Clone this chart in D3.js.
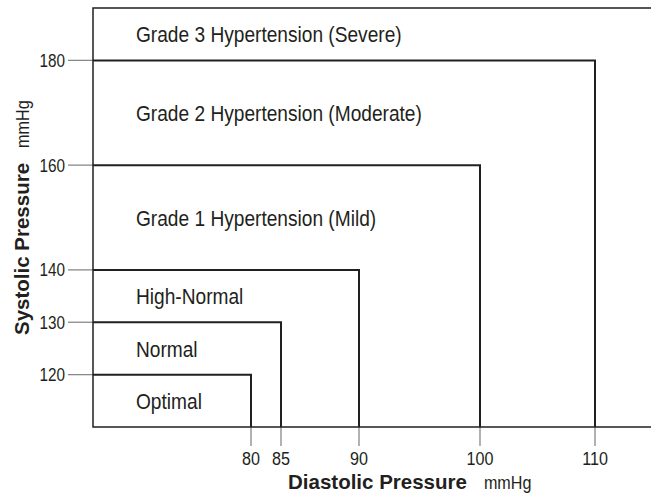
<!DOCTYPE html>
<html lang="en">
<head>
  <meta charset="UTF-8">
  <title>Blood Pressure Classification</title>
  <script src="https://d3js.org/d3.v7.min.js"></script>
  <style>
    body { margin: 0; background: #fff; }
    text { fill: #231f20; }
  </style>
</head>
<body>

<div id="chart"></div>

<script>
  // Classification bands, lowest first
  const categories = [
    "Optimal",
    "Normal",
    "High-Normal",
    "Grade 1 Hypertension (Mild)",
    "Grade 2 Hypertension (Moderate)",
    "Grade 3 Hypertension (Severe)"
  ];
  // upper limits of each band (the last band is open)
  const systolic = [120, 130, 140, 160, 180];
  const diastolic = [80, 85, 90, 100, 110];
  const yTicks = [120, 130, 140, 160, 180];
  const xTicks = [80, 85, 90, 100, 110];

  const width = 651;
  const height = 494;
  const plotLeft = 93, plotTop = 8, plotBottom = 427;

  const ink = "#231f20";
  const sans = "'Liberation Sans', Arial, Helvetica, sans-serif";
  const squeeze = 0.85; // no narrow face installed, so squash the regular one

  // systolic axis is linear
  const y = d3.scaleLinear().domain([110, 190]).range([plotBottom, plotTop]);
  // diastolic axis in the original is schematic, not to scale
  const x = d3.scaleLinear()
    .domain(diastolic)
    .range([251, 281, 359, 480, 595]);

  const svg = d3.select("#chart")
    .append("svg")
    .attr("width", width)
    .attr("height", height);

  // condensed text helper
  function narrowText(sel, size) {
    return sel.append("text")
      .attr("transform", `scale(${squeeze},1)`)
      .style("font-family", sans)
      .style("font-size", size + "px");
  }

  // y tick marks + labels
  const yt = svg.append("g").selectAll("g")
    .data(yTicks)
    .enter().append("g")
    .attr("transform", d => `translate(0,${y(d)})`);
  yt.append("line")
    .attr("x1", 68).attr("x2", plotLeft)
    .attr("stroke", "#888").attr("stroke-width", 1.3);
  yt.append("g")
    .attr("transform", "translate(65,0)")
    .call(g => narrowText(g, 18)
      .attr("dy", "0.36em")
      .attr("text-anchor", "end")
      .text(d => d));

  // x tick marks + labels
  const xt = svg.append("g").selectAll("g")
    .data(xTicks)
    .enter().append("g")
    .attr("transform", d => `translate(${x(d)},0)`);
  xt.append("line")
    .attr("y1", plotBottom).attr("y2", 446)
    .attr("stroke", "#888").attr("stroke-width", 1.3);
  xt.append("g")
    .attr("transform", "translate(0,465)")
    .call(g => narrowText(g, 19)
      .attr("text-anchor", "middle")
      .text(d => d));

  // frame: left, top and bottom edges
  svg.append("path")
    .attr("d", `M${width},${plotTop}H${plotLeft}V${plotBottom}H${width}`)
    .attr("fill", "none")
    .attr("stroke", ink)
    .attr("stroke-width", 1.5);

  // band boundaries
  svg.append("g").selectAll("path")
    .data(systolic.map((s, i) => ({ s, d: diastolic[i] })))
    .enter().append("path")
    .attr("d", b => `M${plotLeft},${y(b.s)}H${x(b.d)}V${plotBottom}`)
    .attr("fill", "none")
    .attr("stroke", ink)
    .attr("stroke-width", 2);

  // band labels, placed in the middle of each band
  const lows = [110].concat(systolic);
  const highs = systolic.concat([190]);
  svg.append("g").selectAll("g")
    .data(categories)
    .enter().append("g")
    .attr("transform", (d, i) => `translate(136,${y((lows[i] + highs[i]) / 2)})`)
    .call(g => narrowText(g, 22.5)
      .attr("dy", "0.36em")
      .text(d => d));

  // x axis title
  const xTitle = svg.append("text")
    .attr("x", 288).attr("y", 489)
    .style("font-family", sans).style("font-weight", "bold").style("font-size", "20.5px")
    .text("Diastolic Pressure");
  const xw = xTitle.node().getComputedTextLength();
  svg.append("g")
    .attr("transform", `translate(${288 + xw + 17},489)`)
    .call(g => narrowText(g, 19).text("mmHg"));

  // y axis title (reads bottom to top)
  const yTitleG = svg.append("g")
    .attr("transform", "translate(29,335) rotate(-90)");
  const yTitle = yTitleG.append("text")
    .style("font-family", sans).style("font-weight", "bold").style("font-size", "20.5px")
    .text("Systolic Pressure");
  const yw = yTitle.node().getComputedTextLength();
  yTitleG.append("g")
    .attr("transform", `translate(${yw + 15},0)`)
    .call(g => narrowText(g, 19).text("mmHg"));
</script>

</body>
</html>
